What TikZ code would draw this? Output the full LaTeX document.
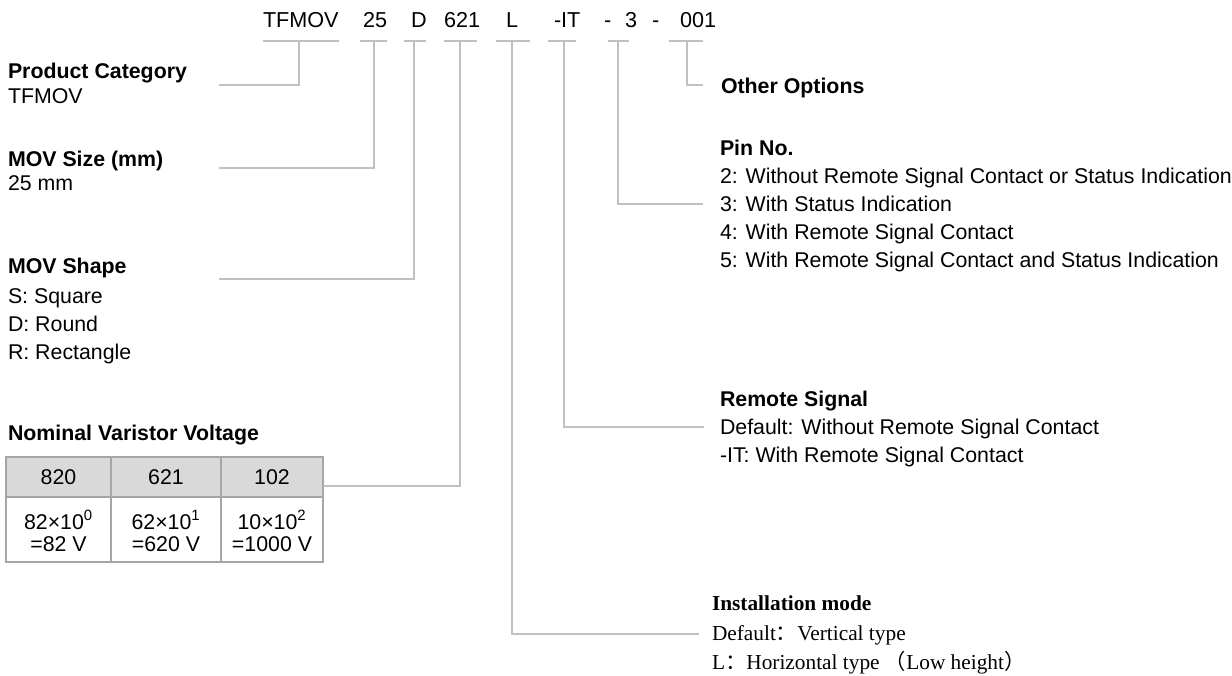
\documentclass[tikz,border=0pt]{standalone}
\usepackage{fontspec}
\setmainfont{Liberation Sans}
\newfontfamily\tnr{Liberation Serif}
\newfontfamily\cjk{Noto Sans CJK SC}
\definecolor{linegray}{HTML}{C0C0C0}
\definecolor{tblgray}{HTML}{A6A6A6}
\definecolor{hdrfill}{HTML}{D9D9D9}
\begin{document}
\begin{tikzpicture}[x=0.75pt,y=-0.75pt,
  every node/.style={inner sep=0pt,outer sep=0pt},
  font=\fontsize{16pt}{19pt}\selectfont,
  code/.style={anchor=base west,font=\fontsize{16.2pt}{19pt}\selectfont},
  txt/.style={anchor=base west},
  ttl/.style={anchor=base west,font=\fontsize{16pt}{19pt}\selectfont\bfseries},
  serif/.style={anchor=base west,font=\fontsize{16pt}{19pt}\selectfont\tnr},
  serifb/.style={anchor=base west,font=\fontsize{16pt}{19pt}\selectfont\tnr\bfseries},
  conn/.style={draw=linegray,line width=1.3pt},
  tb/.style={draw=tblgray,line width=1.4pt},
  cell/.style={anchor=center,align=center,font=\fontsize{16pt}{16.5pt}\selectfont}]
\path[use as bounding box] (0,0) rectangle (1232,675);

% code row
\node[code] (cTF) at (263,27) {TFMOV};
\node[code] (c25) at (363,27) {25};
\node[code] (cD) at (411,27) {D};
\node[code] (c621) at (444,27) {621};
\node[code] (cL) at (506,27) {L};
\node[code] (cIT) at (554,27) {-IT};
\node[code] (cd1) at (604,27) {-};
\node[code] (c3) at (625,27) {3};
\node[code] (cd2) at (652,27) {-};
\node[code] (c001) at (680,27) {001};

% underlines
\draw[conn] (263,41) -- (339,41);
\draw[conn] (360,41) -- (387,41);
\draw[conn] (404,41) -- (426,41);
\draw[conn] (444,41) -- (477,41);
\draw[conn] (496,41) -- (530,41);
\draw[conn] (548,41) -- (576,41);
\draw[conn] (608,41) -- (629,41);
\draw[conn] (669,41) -- (703,41);

\coordinate (tTF) at (299,41);
\coordinate (t25) at (374,41);
\coordinate (tD) at (414,41);
\coordinate (t621) at (460,41);
\coordinate (tL) at (512,41);
\coordinate (tIT) at (564,41);
\coordinate (t3) at (618,41);
\coordinate (t001) at (687,41);

% left labels
\node[ttl] (pc) at (8,78) {Product Category};
\node[txt] (pcv) at (8,103) {TFMOV};
\node[ttl] (ms) at (8,166) {MOV Size (mm)};
\node[txt] (msv) at (8,190) {25 mm};
\node[ttl] (sh) at (8,273) {MOV Shape};
\node[txt] (sh1) at (8,303) {S: Square};
\node[txt] (sh2) at (8,331) {D: Round};
\node[txt] (sh3) at (8,359) {R: Rectangle};
\node[ttl] (nv) at (8,440) {Nominal Varistor Voltage};

% table
\fill[hdrfill] (6,457) rectangle (323,497);
\draw[tb] (6,457) rectangle (323,562);
\draw[tb] (6,497) -- (323,497);
\draw[tb] (111,457) -- (111,562);
\draw[tb] (221,457) -- (221,562);
\node[cell] (h1) at (58.5,477) {820};
\node[cell] (h2) at (166,477) {621};
\node[cell] (h3) at (272,477) {102};
\node[cell] (b1) at (58.5,531) {82×10\textsuperscript{0}\\=82 V};
\node[cell] (b2) at (166,531) {62×10\textsuperscript{1}\\=620 V};
\node[cell] (b3) at (272,531) {10×10\textsuperscript{2}\\=1000 V};
\coordinate (tbl) at (323,486);

% right labels
\node[ttl] (oo) at (721,93) {Other Options};
\node[ttl] (pn) at (720,155.5) {Pin No.};
\node[txt] (pn2) at (720,183.5) {2: Without Remote Signal Contact or Status Indication};
\node[txt] (pn3) at (720,211.5) {3: With Status Indication};
\node[txt] (pn4) at (720,239.5) {4: With Remote Signal Contact};
\node[txt] (pn5) at (720,267.5) {5: With Remote Signal Contact and Status Indication};
\node[ttl] (rs) at (720,406.5) {Remote Signal};
\node[txt] (rs1) at (720,434.5) {Default: Without Remote Signal Contact};
\node[txt] (rs2) at (720,462.5) {-IT: With Remote Signal Contact};
\node[serifb] (im) at (712,610) {Installation mode};
\node[serif] (im1) at (712,640) {Default{\cjk ：}Vertical type};
\node[serif] (im2) at (712,669) {L{\cjk ：}Horizontal type {\cjk （}Low height{\cjk ）}};

% connector end points
\coordinate (ePC) at (219,85);
\coordinate (eMS) at (219,168);
\coordinate (eSH) at (219,279);
\coordinate (eOO) at (703,85);
\coordinate (ePN) at (703,204);
\coordinate (eRS) at (704,427);
\coordinate (eIM) at (699,634);

% connectors
\draw[conn] (tTF) |- (ePC);
\draw[conn] (t25) |- (eMS);
\draw[conn] (tD) |- (eSH);
\draw[conn] (t621) |- (tbl);
\draw[conn] (tL) |- (eIM);
\draw[conn] (tIT) |- (eRS);
\draw[conn] (t3) |- (ePN);
\draw[conn] (t001) |- (eOO);
\end{tikzpicture}
\end{document}
